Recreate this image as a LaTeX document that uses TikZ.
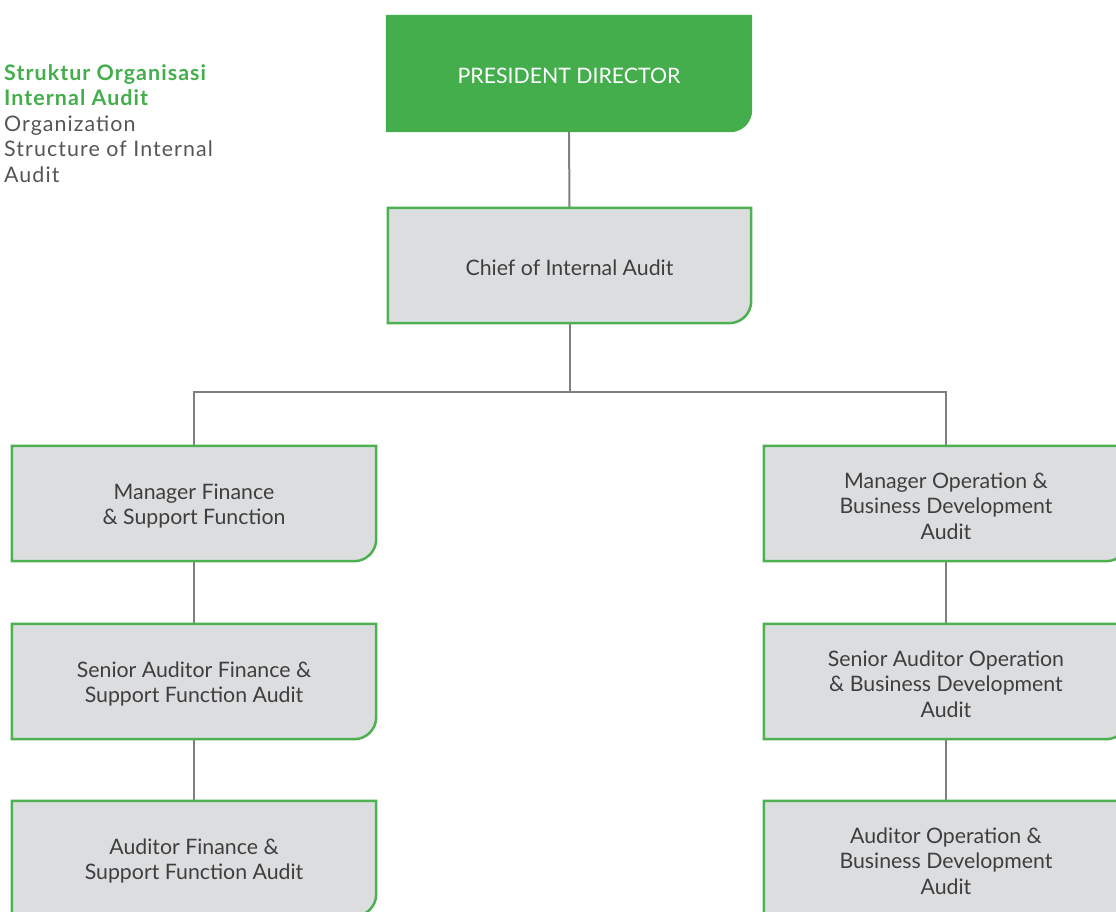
\documentclass[tikz,border=0pt]{standalone}
\usepackage{fontspec}
\setmainfont{Lato}
\newfontfamily\titlefont[LetterSpace=5]{Lato}
\usetikzlibrary{backgrounds}
\definecolor{presgreen}{HTML}{43AE4B}
\definecolor{edgegreen}{HTML}{4DB051}
\definecolor{cardgray}{HTML}{DCDDDF}
\definecolor{inkgray}{HTML}{3E3E3E}
\definecolor{titlegray}{HTML}{555555}
\definecolor{linegray}{HTML}{808080}
\begin{document}
\begin{tikzpicture}[x=1pt,y=1pt,
  card/.style={minimum width=364pt, minimum height=115pt, inner sep=0pt},
  topcard/.style={card, minimum width=366pt, minimum height=117pt},
  cardtext/.style={align=center, inner sep=0pt, text=inkgray,
    font=\fontsize{21.3}{25.5}\selectfont, yshift=-2.5pt},
  toptext/.style={cardtext, text=white},
  link/.style={draw=linegray, line width=2pt},
  cardedge/.style={draw=edgegreen, line width=2.5pt, fill=cardgray}]
\useasboundingbox (0,0) rectangle (1116,911);
\clip (0,0) rectangle (1116,911);

% title block
\node[anchor=north west, align=left, inner sep=0pt, text=titlegray,
      font=\titlefont\fontsize{21.4}{25.6}\selectfont] (title) at (4,847)
  {\textcolor{presgreen}{\bfseries Struktur Organisasi}\\
   \textcolor{presgreen}{\bfseries Internal Audit}\\
   Organization\\ Structure of Internal\\ Audit};

% boxes with their captions
\node[topcard, label={[toptext, name=pres-t]center:PRESIDENT DIRECTOR}] (pres) at (569,837.5) {};
\node[card, minimum width=363pt,
      label={[cardtext, name=chief-t]center:Chief of Internal Audit}] (chief) at (569.5,645.5) {};
\node[card, label={[cardtext, name=mfin-t]center:{Manager Finance\\ \& Support Function}}] (mfin) at (194,407.5) {};
\node[card, label={[cardtext, name=sfin-t]center:{Senior Auditor Finance \&\\ Support Function Audit}}] (sfin) at (194,229.5) {};
\node[card, label={[cardtext, name=afin-t]center:{Auditor Finance \&\\ Support Function Audit}}] (afin) at (194,52.5) {};
\node[card, label={[cardtext, name=mop-t]center:{Manager Operation \&\\ Business Development\\ Audit}}] (mop) at (946,407.5) {};
\node[card, label={[cardtext, name=sop-t]center:{Senior Auditor Operation\\ \& Business Development\\ Audit}}] (sop) at (946,229.5) {};
\node[card, label={[cardtext, name=aop-t]center:{Auditor Operation \&\\ Business Development\\ Audit}}] (aop) at (946,52.5) {};

\coordinate (split) at (569.5,519);

\begin{scope}[on background layer]
  % connectors
  \draw[link] (pres.south) -- (chief.north);
  \draw[link] (chief.south) -- (split);
  \draw[link] (mfin.north) |- (split) -| (mop.north);
  \draw[link] (mfin.south) -- (sfin.north);
  \draw[link] (sfin.south) -- (afin.north);
  \draw[link] (mop.south) -- (sop.north);
  \draw[link] (sop.south) -- (aop.north);
  % box outlines, bottom right corner rounded
  \fill[presgreen] (pres.north west) -- (pres.north east)
    -- ([yshift=22pt]pres.south east) arc[start angle=0, end angle=-90, radius=22pt]
    -- (pres.south west) -- cycle;
  \foreach \n in {chief,mfin,sfin,afin,mop,sop,aop}
    \draw[cardedge] (\n.north west) -- (\n.north east)
      -- ([yshift=22pt]\n.south east) arc[start angle=0, end angle=-90, radius=22pt]
      -- (\n.south west) -- cycle;
\end{scope}
\end{tikzpicture}
\end{document}
